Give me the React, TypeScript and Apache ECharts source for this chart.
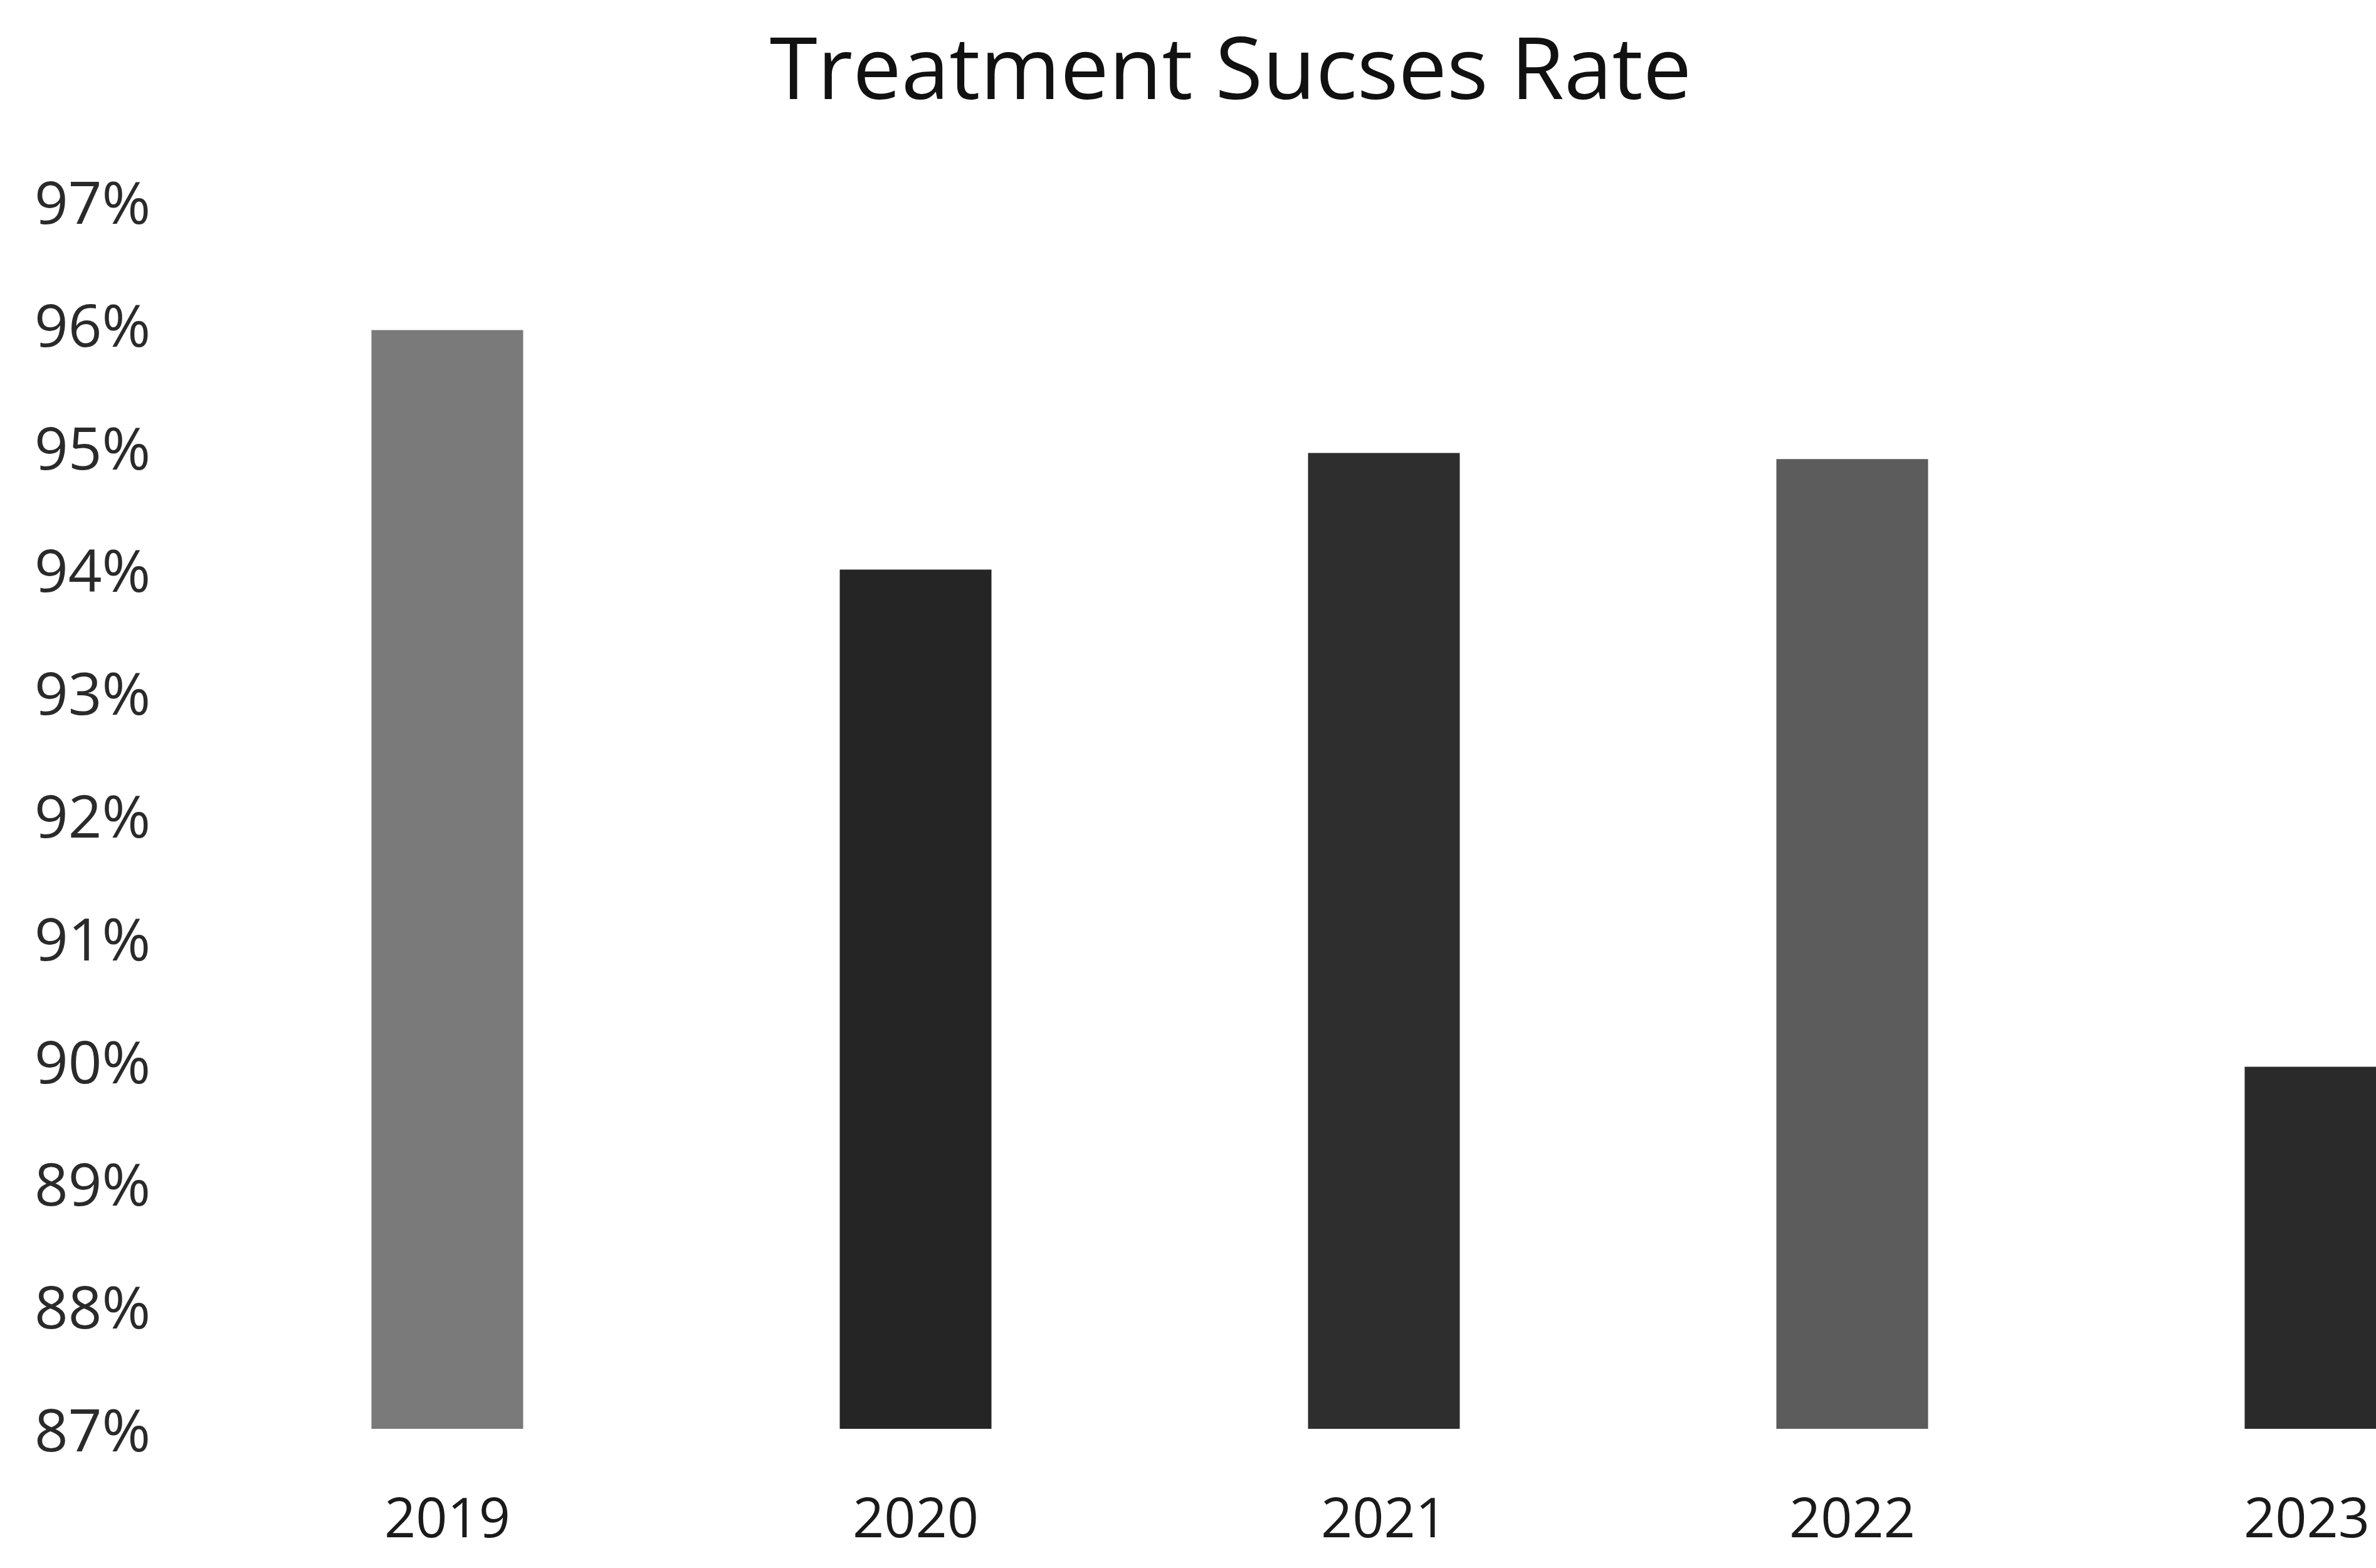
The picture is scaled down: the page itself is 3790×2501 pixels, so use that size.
import React, { useEffect, useRef } from "react";
import * as echarts from "echarts";

const titleText = "Treatment Sucses Rate";
const years = ["2019", "2020", "2021", "2022", "2023"];
const successRate = [95.95, 94.0, 94.95, 94.9, 89.95];
const barColors = ["#7a7a7a", "#252525", "#2e2e2e", "#5c5c5c", "#2a2a2a"];
const yMin = 87;
const yMax = 97;
const yStep = 1;

export default function App() {
  const ref = useRef<HTMLDivElement>(null);
  useEffect(() => {
    if (!ref.current) return;
    const chart = echarts.init(ref.current, undefined, { renderer: "svg" });
    chart.setOption({
      animation: false,
      backgroundColor: "#ffffff",
      title: {
        text: titleText,
        left: 1958,
        top: 30,
        textAlign: "center",
        textStyle: {
          fontFamily: "Open Sans",
          fontSize: 138,
          fontWeight: "normal",
          color: "#111111",
        },
      },
      grid: { left: 340, right: 0, top: 321, bottom: 222, containLabel: false },
      xAxis: {
        type: "category",
        data: years.map((y, i) =>
          i === years.length - 1
            ? { value: y, textStyle: { padding: [0, 44, 0, 0] } }
            : y
        ),
        axisLine: { show: false },
        axisTick: { show: false },
        splitLine: { show: false },
        axisLabel: {
          margin: 95,
          fontFamily: "Open Sans",
          fontSize: 88,
          color: "#1a1a1a",
        },
      },
      yAxis: {
        type: "value",
        min: yMin,
        max: yMax,
        interval: yStep,
        axisLine: { show: false },
        axisTick: { show: false },
        splitLine: { show: false },
        axisLabel: {
          align: "left",
          margin: 285,
          fontFamily: "Open Sans",
          fontSize: 94,
          color: "#2a2a2a",
          formatter: (v: number) => `${v}%`,
        },
      },
      series: [
        {
          type: "bar",
          barWidth: 242,
          data: successRate.map((v, i) => ({
            value: v,
            itemStyle: { color: barColors[i] },
          })),
        },
      ],
    });
    return () => chart.dispose();
  }, []);
  return (
    <div
      style={{
        position: "absolute",
        left: 0,
        top: 0,
        width: 3790,
        height: 2501,
        overflow: "hidden",
        background: "#ffffff",
      }}
    >
      <div ref={ref} style={{ width: 4075, height: 2501 }} />
    </div>
  );
}
